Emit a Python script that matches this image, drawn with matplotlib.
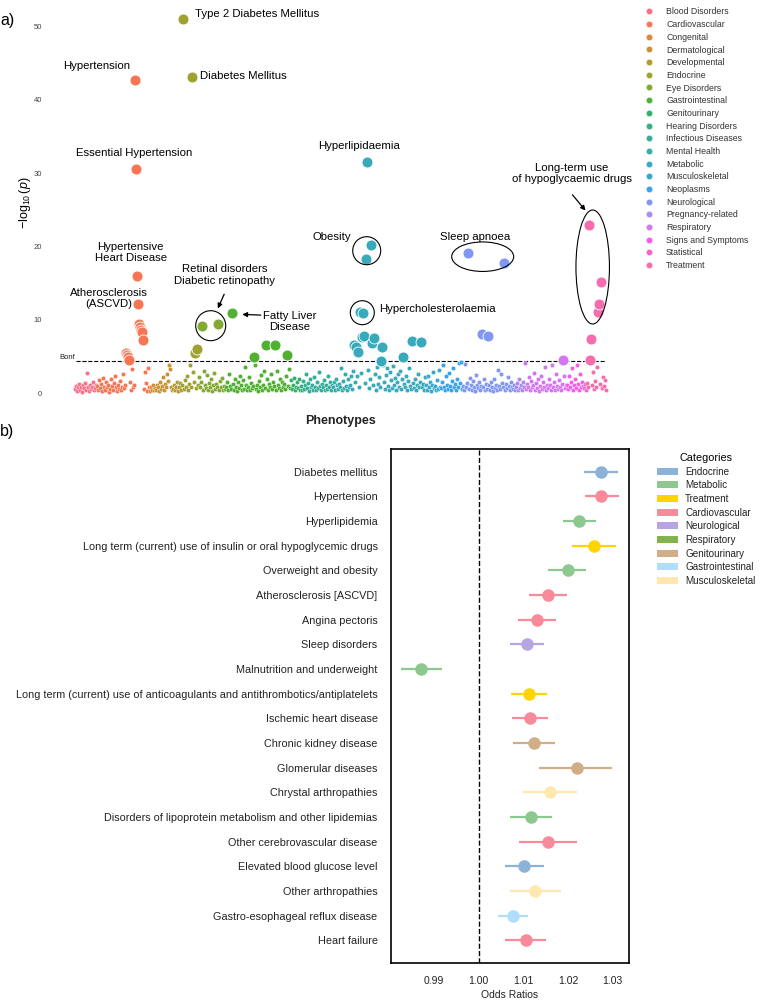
import matplotlib
matplotlib.use('Agg')
import matplotlib.pyplot as plt
import seaborn as sns
import numpy as np
from matplotlib.patches import Ellipse, Patch
from matplotlib.lines import Line2D

plt.rcParams['font.family'] = ['Liberation Sans', 'DejaVu Sans']
plt.rcParams['mathtext.fontset'] = 'custom'
plt.rcParams['mathtext.rm'] = 'Liberation Sans'
plt.rcParams['mathtext.it'] = 'Liberation Sans:italic'

# ---------------- Panel a data (-log10 p per phenotype, grouped by category) ----------------
categories = ['Blood Disorders', 'Cardiovascular', 'Congenital', 'Dermatological', 'Developmental',
              'Endocrine', 'Eye Disorders', 'Gastrointestinal', 'Genitourinary', 'Hearing Disorders',
              'Infectious Diseases', 'Mental Health', 'Metabolic', 'Musculoskeletal', 'Neoplasms',
              'Neurological', 'Pregnancy-related', 'Respiratory', 'Signs and Symptoms', 'Statistical',
              'Treatment']

blood_disorders = [0.6,1.0,0.3,0.8,1.3,0.5,0.9,0.2,1.1,0.7,1.4,0.4,2.8,0.8,0.3,1.2,0.6,0.9,1.5,0.4,0.7,1.1]
cardiovascular = [1.0,0.5,1.8,0.7,1.3,0.3,2.1,0.9,0.4,1.6,0.8,1.2,0.2,0.6,1.9,1.0,0.5,1.4,2.4,0.8,0.3,1.1,0.6,1.7,0.4,0.9,2.6,0.7,1.2,
                  5.5,5.2,4.9,4.6,
                  1.5,0.4,3.3,0.8,1.1,
                  42.7,30.6,16.0,12.2,9.5,9.1,8.6,8.3,7.3,
                  0.6,2.9,1.4,0.3,3.4,0.9]
congenital = [0.3,0.8,0.5,1.2,0.4]
dermatological = [0.7,0.4,1.1,0.9,0.3,1.5,0.6,1.0,2.2,0.5,1.3,0.8,2.6,1.7,3.9,3.3,0.9,0.5]
developmental = [0.6,1.2,0.4,0.9,1.6,0.3,0.8,1.4,0.5]
endocrine = [1.1,51.05,0.6,1.8,0.9,2.4,0.5,1.3,3.9,0.8,43.1,2.9,1.5,5.5,0.7,6.0,1.2]
eye_disorders = [2.2,0.9,1.6,9.2,0.4,3.1,1.2,0.7,2.5,0.5,1.4,0.8,1.9,0.3,1.1,2.8,0.6,1.3,0.9,9.45,0.5,1.7,0.8,2.1,0.4,1.0,0.6]
gastrointestinal = [0.8,1.5,0.4,2.7,1.0,0.6,
                    11.0,
                    1.3,0.5,2.0,0.9,0.3,1.6,0.7,2.4,1.1,0.4,1.8,0.6,3.6,1.2,0.5,0.9,2.2,0.4,1.4,0.7,1.0,
                    4.9,
                    3.9,0.6,1.2,0.3,1.7,0.9,2.5,0.5,1.1,3.0,0.7,
                    6.55,
                    1.9,0.4,1.3,0.8,2.6,0.6,1.5,1.0,
                    6.55,
                    0.5,3.1,1.2,0.7,2.0,0.4,1.6,0.9,1.3,0.6,2.3,
                    5.2,
                    1.0,3.3,0.7]
genitourinary = [1.8,0.6,1.2,2.1,0.4,0.9,1.5,0.7,1.9,0.5]
hearing_disorders = [1.0,0.4,1.7,0.6,1.2]
infectious_diseases = [2.6,0.7,1.4,0.3,1.9,0.8,1.1,0.5,2.2,0.9,0.4,1.6,0.7,2.9,1.0,0.5,1.3,0.8,1.8,0.4,1.2,0.6,2.4,0.9,1.5,0.5,1.1]
mental_health = [0.8,1.6,0.4,2.0,1.1,0.6,1.3,0.9,3.5,0.5,1.7,0.7,2.6,1.0,0.4,1.9,0.8]
metabolic = [1.2,2.3,0.6,3.0,
             6.6,1.5,6.3,2.4,5.7,0.9,11.1,2.8,7.7,10.9,7.8,1.4,18.3,31.55,
             3.2,0.7,2.0,
             20.2,6.8,1.1,7.5,
             2.7,0.5,3.6,1.3,2.2,0.8,
             4.45,6.3,
             3.9,1.6,0.6,2.5,3.4,1.0,0.4,2.9,1.8,0.7,3.7,1.2,2.1,0.5,1.5,2.6,0.9,3.1,0.6,1.9,
             5.0,
             1.3,0.8,2.3,0.5,1.7,3.5,1.0,0.6,
             7.15,
             1.4,0.7,2.0,0.4,1.1,2.7,0.8,1.6,
             7.05,
             0.9,1.3,0.5,2.2]
musculoskeletal = [1.1,0.5,2.4,0.8,1.6,0.3,1.2,2.9,0.7,1.0,0.4,1.8,0.6,3.2,0.9]
neoplasms = [0.7,1.5,3.8,0.9,0.4,2.3,1.2,0.6,2.8,1.0,0.5,1.7,3.4,0.8,1.3,0.4,2.0,0.9,4.1,1.4,4.3,0.6]
neurological = [1.0,0.5,4.0,0.8,1.4,
                19.1,
                0.6,2.1,1.1,0.4,1.7,0.9,0.3,2.5,1.2,0.7,1.5,0.5,1.0,
                8.1,
                0.8,2.0,0.4,1.3,0.6,
                7.8,
                1.1,0.5,1.6,0.9,0.3,1.9,0.7,1.2,0.4,3.2,1.0,0.6,2.6,1.4,0.8,
                17.8,
                0.5,1.3,0.7,2.2,1.0,0.4,1.5,0.8,0.6,1.1,0.5]
pregnancy_related = [0.8,1.4,0.5,2.0,0.7,1.1,0.4,1.6,0.9]
respiratory = [4.1,0.6,1.3,0.9,2.2,0.4,1.7,0.8,1.1,2.8,0.5,1.4,0.7,1.9,0.3,1.0,2.4,0.6,1.5,0.9,3.6,0.4,
               1.2,0.7,2.0,1.1,0.5,3.9,0.8,1.6,0.4,2.6,1.0,0.6,1.8,0.9,0.5,1.3,4.6,2.3,0.7,1.2]
signs_and_symptoms = [1.2,0.6,2.4,0.9,1.5,3.4,0.5,1.1,2.0,0.7,3.9,1.3,0.4,2.7,0.8,1.6,1.0]
statistical = [0.7,1.3,0.5]
treatment = [1.4,0.8,22.9,4.6,7.4,1.1,2.9,0.6,1.7,0.9,3.6,11.1,12.2,1.3,15.2,0.7,2.2,1.0,1.8,0.5]

manhattan_values = [blood_disorders, cardiovascular, congenital, dermatological, developmental,
                    endocrine, eye_disorders, gastrointestinal, genitourinary, hearing_disorders,
                    infectious_diseases, mental_health, metabolic, musculoskeletal, neoplasms,
                    neurological, pregnancy_related, respiratory, signs_and_symptoms, statistical,
                    treatment]
bonferroni = 4.37
ytick_values = [0, 10, 20, 30, 40, 50]

# ---------------- Panel b data ----------------
phenotypes = ['Diabetes mellitus', 'Hypertension', 'Hyperlipidemia',
              'Long term (current) use of insulin or oral hypoglycemic drugs',
              'Overweight and obesity', 'Atherosclerosis [ASCVD]', 'Angina pectoris',
              'Sleep disorders', 'Malnutrition and underweight',
              'Long term (current) use of anticoagulants and antithrombotics/antiplatelets',
              'Ischemic heart disease', 'Chronic kidney disease', 'Glomerular diseases',
              'Chrystal arthropathies', 'Disorders of lipoprotein metabolism and other lipidemias',
              'Other cerebrovascular disease', 'Elevated blood glucose level', 'Other arthropathies',
              'Gastro-esophageal reflux disease', 'Heart failure']
odds_ratios = [1.0273, 1.0274, 1.0225, 1.0258, 1.0199, 1.0155, 1.0130, 1.0107, 0.9871, 1.0112,
               1.0115, 1.0124, 1.0219, 1.0159, 1.0118, 1.0156, 1.0101, 1.0127, 1.0077, 1.0105]
ci_low = [1.0235, 1.0237, 1.0189, 1.0209, 1.0156, 1.0113, 1.0089, 1.0070, 0.9827, 1.0072,
          1.0074, 1.0077, 1.0136, 1.0098, 1.0070, 1.0090, 1.0059, 1.0071, 1.0044, 1.0058]
ci_high = [1.0311, 1.0313, 1.0262, 1.0307, 1.0241, 1.0197, 1.0172, 1.0145, 0.9917, 1.0152,
           1.0156, 1.0171, 1.0299, 1.0220, 1.0165, 1.0220, 1.0145, 1.0184, 1.0111, 1.0150]
phenotype_categories = ['Endocrine', 'Cardiovascular', 'Metabolic', 'Treatment', 'Metabolic',
                        'Cardiovascular', 'Cardiovascular', 'Neurological', 'Metabolic', 'Treatment',
                        'Cardiovascular', 'Genitourinary', 'Genitourinary', 'Musculoskeletal',
                        'Metabolic', 'Cardiovascular', 'Endocrine', 'Musculoskeletal',
                        'Gastrointestinal', 'Cardiovascular']
legend_categories = ['Endocrine', 'Metabolic', 'Treatment', 'Cardiovascular', 'Neurological',
                     'Respiratory', 'Genitourinary', 'Gastrointestinal', 'Musculoskeletal']
category_colors = ['#8cb2d8', '#8dc98f', '#ffd400', '#f98a9a', '#b8a4e2',
                   '#84b24f', '#d0ae88', '#b0ddfa', '#ffe7b0']
or_ticks = [0.99, 1.00, 1.01, 1.02, 1.03]

# ---------------- Figure ----------------
FIG_W, FIG_H = 767, 1000
fig = plt.figure(figsize=(FIG_W / 100, FIG_H / 100), dpi=100)

ax1 = fig.add_axes([46 / FIG_W, 1 - 404.3 / FIG_H, 571 / FIG_W, 403.3 / FIG_H])
palette = sns.color_palette('husl', len(categories))

start = 0
for vals, col in zip(manhattan_values, palette):
    xs = np.arange(start, start + len(vals))
    v = np.array(vals)
    small = v < bonferroni
    ax1.scatter(xs[small], v[small], s=10, color=col, edgecolor='white', linewidth=0.25, zorder=2)
    ax1.scatter(xs[~small], v[~small], s=62, color=col, edgecolor='white', linewidth=0.6, zorder=3)
    start += len(vals)
n_total = start

ax1.set_xlim(-29, 542)
ax1.set_ylim(-1.5, 53.5)
ax1.hlines(bonferroni, 1, n_total - 1, colors='black', linestyles='--', linewidth=0.8, zorder=1)
for s in ax1.spines.values():
    s.set_visible(False)
ax1.set_xticks([])
ax1.set_yticks(ytick_values)
ax1.tick_params(axis='y', length=0, labelsize=5.5, labelcolor='#444444', pad=3)
ax1.set_ylabel(r'$-\log_{10}(p)$', fontsize=9, labelpad=0)
ax1.text(0, bonferroni + 0.1, 'Bonf', fontsize=5.5, ha='right', va='bottom', color='#222222')

inv = ax1.transData.inverted()
def P(px, py):
    return tuple(inv.transform((px, FIG_H - py)))

def dx(w):
    a = P(0, 0); b = P(w, 0)
    return b[0] - a[0]

def dy(h):
    a = P(0, 0); b = P(0, h)
    return a[1] - b[1]

afs = 8.2
ann = [
    ('Type 2 Diabetes Mellitus', 195, 14.3, 'left'),
    ('Diabetes Mellitus', 200, 76, 'left'),
    ('Hypertension', 96.7, 66, 'center'),
    ('Essential Hypertension', 133.8, 153.3, 'center'),
    ('Hypertensive\nHeart Disease', 130.8, 252.5, 'center'),
    ('Atherosclerosis\n(ASCVD)', 108.5, 298.3, 'center'),
    ('Retinal disorders\nDiabetic retinopathy', 224.5, 275, 'center'),
    ('Fatty Liver\nDisease', 289.7, 321.7, 'center'),
    ('Hyperlipidaemia', 359.2, 145.7, 'center'),
    ('Obesity', 331.8, 236.7, 'center'),
    ('Hypercholesterolaemia', 379.3, 309.3, 'left'),
    ('Sleep apnoea', 475, 236.7, 'center'),
    ('Long-term use\nof hypoglycaemic drugs', 572, 173.3, 'center'),
]
for txt, px, py, ha in ann:
    x, y = P(px, py)
    ax1.text(x, y, txt, fontsize=afs, ha=ha, va='center', multialignment='center',
             linespacing=1.15, clip_on=False, zorder=5)

for cx, cy, w, h in [(210.7, 325.7, 30, 30), (366.7, 250.7, 28, 28), (362.3, 312.7, 24, 24),
                     (482.7, 256.7, 62, 29.5), (592.7, 267, 33.5, 114)]:
    ax1.add_patch(Ellipse(P(cx, cy), dx(w), dy(h), fill=False, edgecolor='black',
                          linewidth=0.8, zorder=4, clip_on=False))

for (x1, y1), (x2, y2) in [((225.3, 291.7), (216.7, 311.0)), ((263.5, 315.2), (239.5, 314.3)),
                           ((570.7, 192.7), (587.3, 212.7))]:
    ax1.annotate('', xy=P(x2, y2), xytext=P(x1, y1),
                 arrowprops=dict(arrowstyle='-|>', color='black', lw=0.9, mutation_scale=7),
                 zorder=5)

handles = [Line2D([], [], marker='o', linestyle='', markerfacecolor=c, markeredgecolor='white',
                  markeredgewidth=0.3, markersize=4.6) for c in palette]
ax1.legend(handles, categories, loc='upper left', bbox_to_anchor=(644.6 / FIG_W, 1 - 7.5 / FIG_H),
           bbox_transform=fig.transFigure, frameon=False, fontsize=6.3, handlelength=1.0,
           handletextpad=1.45, labelspacing=0.42, borderpad=0, borderaxespad=0, labelcolor='#333333')

fig.text(340 / FIG_W, 1 - 420.7 / FIG_H, 'Phenotypes', fontsize=9, fontweight='bold',
         ha='center', va='center', color='#222222')
fig.text(0.0, 1 - 20 / FIG_H, 'a)', fontsize=11.5, ha='left', va='center')
fig.text(0.0, 1 - 431.5 / FIG_H, 'b)', fontsize=11.5, ha='left', va='center')

# ---------------- Panel b ----------------
ax2 = fig.add_axes([390.7 / FIG_W, 1 - 963.3 / FIG_H, 238.6 / FIG_W, 514.3 / FIG_H])
color_map = dict(zip(legend_categories, category_colors))
ypos = np.arange(len(phenotypes))
for i, (o, lo, hi, cat) in enumerate(zip(odds_ratios, ci_low, ci_high, phenotype_categories)):
    ax2.errorbar([o], [ypos[i]], xerr=[[o - lo], [hi - o]], fmt='o', color=color_map[cat],
                 markersize=8, elinewidth=1.6, capsize=0, zorder=3)
ax2.axvline(1.0, color='black', linestyle='--', linewidth=1.0, zorder=1)
ax2.set_xlim(0.9803, 1.0337)
ax2.set_ylim(19.93, -0.92)
ax2.set_yticks(ypos)
ax2.set_yticklabels(phenotypes)
ax2.set_xticks(or_ticks)
ax2.set_xticklabels(['%.2f' % t for t in or_ticks])
ax2.tick_params(axis='y', length=0, labelsize=7.8, pad=9.5, labelcolor='#222222')
ax2.tick_params(axis='x', length=0, labelsize=7.5, pad=9.5, labelcolor='#222222')
ax2.set_xlabel('Odds Ratios', fontsize=7.5, labelpad=2.5, color='#222222')
for s in ax2.spines.values():
    s.set_linewidth(1.2)
    s.set_color('black')

patches = [Patch(facecolor=c, edgecolor='none') for c in category_colors]
ax2.legend(patches, legend_categories, title='Categories', loc='upper left',
           bbox_to_anchor=(656.7 / FIG_W, 1 - 453 / FIG_H), bbox_transform=fig.transFigure,
           frameon=False, fontsize=7.1, title_fontsize=7.8, handlelength=2.13, handleheight=0.7,
           handletextpad=0.74, labelspacing=0.37, borderpad=0, borderaxespad=0, labelcolor='#222222')

fig.savefig('out.png', dpi=100)
